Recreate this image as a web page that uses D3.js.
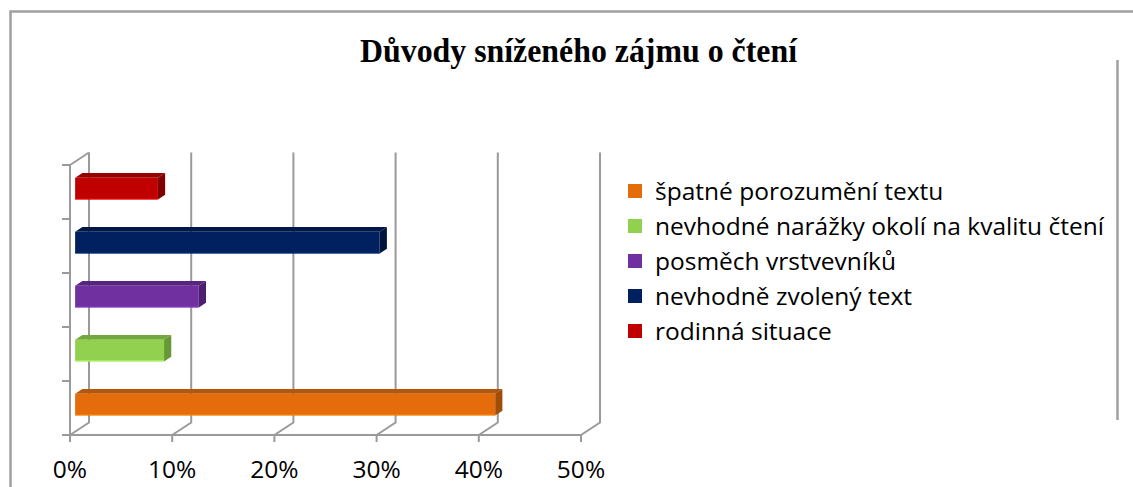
<!DOCTYPE html>
<html>
<head>
<meta charset="utf-8">
<script src="https://cdn.jsdelivr.net/npm/d3@7"></script>
<style>
  html, body { margin: 0; padding: 0; background: #fff; }
  svg { display: block; }
</style>
</head>
<body>
<svg id="chart" width="1133" height="487"></svg>
<script>
// ---- data ----
const title = "Důvody sníženého zájmu o čtení";
const categories = [
  "špatné porozumění textu",
  "nevhodné narážky okolí na kvalitu čtení",
  "posměch vrstvevníků",
  "nevhodně zvolený text",
  "rodinná situace"
];
const values = [41.1, 8.7, 12.1, 29.8, 8.1];
const frontColors = ["#E46C0A", "#92D050", "#7030A0", "#002060", "#C00000"];
const topColors   = ["#B4570A", "#74A83E", "#57257F", "#001848", "#990000"];
const sideColors  = ["#A04D08", "#689737", "#4C206F", "#00143C", "#800000"];
const tickValues = [0, 10, 20, 30, 40, 50];
const tickLabels = ["0%", "10%", "20%", "30%", "40%", "50%"];

// ---- layout ----
const svg = d3.select("#chart");
const X0 = 70, FLOOR = 435, TOP = 165;
const DX = 19, DY = -12.5;         // 3D depth offset of back wall
const F1 = 0.27, F2 = 0.65;        // bar depth fractions (front / back)
const gridColor = "#9a9a9a";
const labelFont = "'Open Sans', Lato, sans-serif";

const x = d3.scaleLinear().domain([0, 50]).range([0, 511]);
const y = d3.scaleBand().domain(d3.range(categories.length))
  .range([FLOOR, TOP]).paddingInner(0.6).paddingOuter(0.3);
const yStep = (FLOOR - TOP) / categories.length;

// chart frame
svg.append("path")
  .attr("d", `M10.5,487 L10.5,11.5 L1133,11.5`)
  .attr("fill", "none").attr("stroke", "#a0a0a0").attr("stroke-width", 2.5);
svg.append("line")
  .attr("x1", 1117.5).attr("x2", 1117.5).attr("y1", 60).attr("y2", 420)
  .attr("stroke", "#a0a0a0").attr("stroke-width", 2.5);

// title
svg.append("text")
  .attr("x", 360).attr("y", 62)
  .attr("textLength", 437).attr("lengthAdjust", "spacingAndGlyphs")
  .attr("font-family", "'Liberation Serif', 'Times New Roman', serif")
  .attr("font-weight", "bold").attr("font-size", 33)
  .attr("fill", "#000").text(title);

const g = svg.append("g");

// back wall gridlines + floor diagonals
tickValues.forEach(v => {
  const xf = X0 + x(v);
  g.append("path")
    .attr("d", `M${xf},${FLOOR} L${xf + DX},${FLOOR + DY} L${xf + DX},${TOP + DY}`)
    .attr("fill", "none").attr("stroke", gridColor).attr("stroke-width", 2);
});
// left wall top edge
g.append("line")
  .attr("x1", X0).attr("y1", TOP).attr("x2", X0 + DX).attr("y2", TOP + DY)
  .attr("stroke", gridColor).attr("stroke-width", 2);

// front value axis
g.append("line")
  .attr("x1", X0).attr("x2", X0 + x(50)).attr("y1", FLOOR).attr("y2", FLOOR)
  .attr("stroke", gridColor).attr("stroke-width", 2);
tickValues.forEach((v, i) => {
  const xf = X0 + x(v);
  g.append("line").attr("x1", xf).attr("x2", xf).attr("y1", FLOOR).attr("y2", FLOOR + 7)
    .attr("stroke", gridColor).attr("stroke-width", 2);
  g.append("text").attr("x", xf).attr("y", 478).attr("text-anchor", "middle")
    .attr("font-family", labelFont).attr("font-size", 24.5)
    .attr("fill", "#000").text(tickLabels[i]);
});

// category axis
g.append("line")
  .attr("x1", X0).attr("x2", X0).attr("y1", TOP).attr("y2", FLOOR)
  .attr("stroke", gridColor).attr("stroke-width", 2);
d3.range(categories.length + 1).forEach(i => {
  const yy = FLOOR - i * yStep;
  g.append("line").attr("x1", X0 - 8).attr("x2", X0).attr("y1", yy).attr("y2", yy)
    .attr("stroke", gridColor).attr("stroke-width", 2);
});

// bars
const ddx = (F2 - F1) * DX, ddy = (F2 - F1) * DY;
values.forEach((v, i) => {
  const x1 = X0 + F1 * DX, x2 = x1 + x(v);
  const y1 = y(i) + F1 * DY, h = y.bandwidth();
  const bg = g.append("g");
  bg.append("path")
    .attr("d", `M${x1},${y1} L${x2},${y1} L${x2 + ddx},${y1 + ddy} L${x1 + ddx},${y1 + ddy} Z`)
    .attr("fill", topColors[i]);
  bg.append("path")
    .attr("d", `M${x2},${y1} L${x2 + ddx},${y1 + ddy} L${x2 + ddx},${y1 + ddy + h} L${x2},${y1 + h} Z`)
    .attr("fill", sideColors[i]);
  bg.append("rect").attr("x", x1).attr("y", y1).attr("width", x(v)).attr("height", h)
    .attr("fill", frontColors[i]);
  bg.append("line").attr("x1", x1).attr("x2", x2).attr("y1", y1 + h - 0.5).attr("y2", y1 + h - 0.5)
    .attr("stroke", d3.color(frontColors[i]).brighter(0.6)).attr("stroke-width", 1);
});

// legend
const lg = svg.append("g");
categories.forEach((c, i) => {
  const cy = 191 + i * 35;
  lg.append("rect").attr("x", 628).attr("y", cy - 7).attr("width", 14).attr("height", 14)
    .attr("fill", frontColors[i]);
  lg.append("text").attr("x", 655).attr("y", cy + 9)
    .attr("font-family", labelFont).attr("font-size", 24.5)
    .attr("fill", "#000").text(c);
});
</script>
</body>
</html>
